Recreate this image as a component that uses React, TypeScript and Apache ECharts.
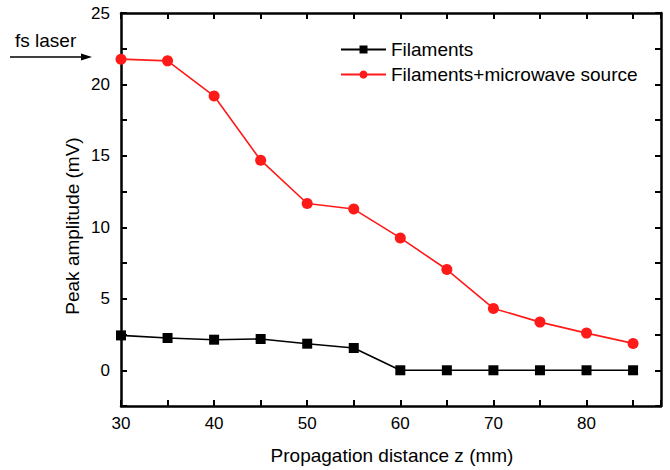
import React, { useEffect, useRef } from "react";
import * as echarts from "echarts";

const distances = [30, 35, 40, 45, 50, 55, 60, 65, 70, 75, 80, 85];
const filaments = [2.44, 2.26, 2.14, 2.19, 1.86, 1.56, 0, 0, 0, 0, 0, 0];
const filamentsMicrowave = [21.77, 21.65, 19.19, 14.7, 11.67, 11.28, 9.26, 7.05, 4.33, 3.37, 2.6, 1.88];
const seriesNames = ["Filaments", "Filaments+microwave source"];
const xTitle = "Propagation distance z (mm)";
const yTitle = "Peak amplitude (mV)";
const annotation = "fs laser";

const FONT = "Liberation Sans, Arial, sans-serif";

export default function App() {
  const ref = useRef<HTMLDivElement>(null);
  useEffect(() => {
    if (!ref.current) return;
    const chart = echarts.init(ref.current, null, { renderer: "svg" });
    const axisLine = { show: true, onZero: false, lineStyle: { color: "#000", width: 2.5 } };
    const tick = { show: true, inside: true, length: 6, lineStyle: { color: "#000", width: 2 } };
    const option: any = {
      animation: false,
      backgroundColor: "#fff",
      textStyle: { fontFamily: FONT },
      grid: { left: 121, right: 9, top: 13, bottom: 64, containLabel: false },
      legend: {
        orient: "vertical",
        left: 335,
        top: 35,
        itemWidth: 45,
        itemHeight: 10,
        itemGap: 6,
        textStyle: { fontSize: 19, fontFamily: FONT, color: "#000", lineHeight: 18 },
        data: seriesNames,
      },
      xAxis: [
        {
          type: "value",
          min: 30,
          max: 88,
          interval: 10,
          position: "bottom",
          axisLine,
          axisTick: tick,
          minorTick: { show: true, splitNumber: 2, length: 6, lineStyle: { color: "#000", width: 2 } },
          splitLine: { show: false },
          axisLabel: { fontSize: 17, color: "#000", margin: 9, fontFamily: FONT, showMaxLabel: false },
        },
        {
          type: "value",
          min: 30,
          max: 88,
          interval: 5,
          position: "top",
          axisLine,
          axisTick: tick,
          splitLine: { show: false },
          axisLabel: { show: false },
        },
      ],
      yAxis: [
        {
          type: "value",
          min: -2.5,
          max: 25,
          interval: 2.5,
          position: "left",
          axisLine,
          axisTick: tick,
          splitLine: { show: false },
          axisLabel: {
            fontSize: 17,
            color: "#000",
            margin: 11,
            fontFamily: FONT,
            formatter: (v: number) => (Math.abs(v % 5) < 1e-6 ? String(v) : ""),
          },
        },
        {
          type: "value",
          min: -2.5,
          max: 25,
          interval: 2.5,
          position: "right",
          axisLine,
          axisTick: tick,
          splitLine: { show: false },
          axisLabel: { show: false },
        },
      ],
      series: [
        {
          name: seriesNames[0],
          type: "line",
          data: distances.map((d, i) => [d, filaments[i]]),
          symbol: "rect",
          symbolSize: 10,
          lineStyle: { color: "#000", width: 1.6 },
          itemStyle: { color: "#000" },
        },
        {
          name: seriesNames[1],
          type: "line",
          data: distances.map((d, i) => [d, filamentsMicrowave[i]]),
          symbol: "circle",
          symbolSize: 11,
          lineStyle: { color: "#ff1a1a", width: 1.6 },
          itemStyle: { color: "#ff1a1a" },
        },
      ],
      graphic: [
        {
          type: "text",
          x: 392,
          y: 455,
          style: { text: xTitle, fontSize: 19, fontFamily: FONT, fill: "#000", align: "center", verticalAlign: "middle" },
        },
        {
          type: "text",
          x: 72,
          y: 226,
          rotation: Math.PI / 2,
          style: { text: yTitle, fontSize: 19, fontFamily: FONT, fill: "#000", align: "center", verticalAlign: "middle" },
        },
        {
          type: "text",
          x: 15,
          y: 40,
          style: { text: annotation, fontSize: 19, fontFamily: FONT, fill: "#000", align: "left", verticalAlign: "middle" },
        },
        {
          type: "line",
          shape: { x1: 10, y1: 57, x2: 84, y2: 57 },
          style: { stroke: "#000", lineWidth: 1.5 },
        },
        {
          type: "polygon",
          shape: { points: [[92, 57], [81, 53.5], [81, 60.5]] },
          style: { fill: "#000" },
        },
      ],
    };
    chart.setOption(option);
    return () => chart.dispose();
  }, []);
  return <div ref={ref} style={{ width: 670, height: 470, position: "absolute", left: 0, top: 0 }} />;
}
